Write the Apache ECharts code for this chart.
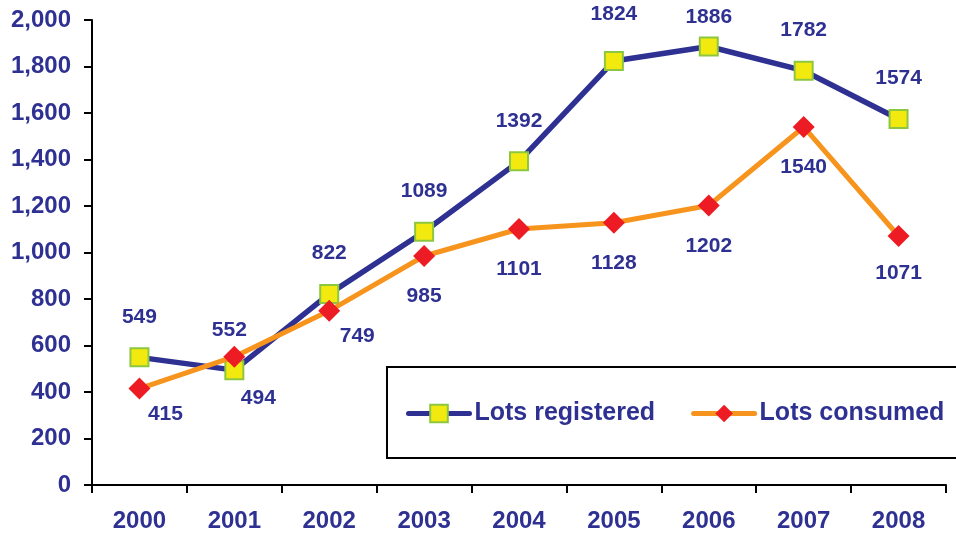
<!DOCTYPE html>
<html>
<head>
<meta charset="utf-8">
<script src="https://cdn.jsdelivr.net/npm/echarts@6/dist/echarts.min.js"></script>
<style>
  html, body { margin: 0; padding: 0; background: #fff; }
  #chart { width: 956px; height: 533px; }
</style>
</head>
<body>
<div id="chart"></div>
<script>
var years = ['2000', '2001', '2002', '2003', '2004', '2005', '2006', '2007', '2008'];
var lotsRegistered = [549, 494, 822, 1089, 1392, 1824, 1886, 1782, 1574];
var lotsConsumed = [415, 552, 749, 985, 1101, 1128, 1202, 1540, 1071];

var navy = '#2E3192';
var font = 'Liberation Sans, Arial, sans-serif';

// label placement tweaks per point (index -> label option)
var regLabelTweaks = {
    1: { position: 'bottom', distance: 8, offset: [24, 0] },
    5: { offset: [0, -6] },
    6: { offset: [0, 11] }
};
var conLabelTweaks = {
    0: { distance: 4, offset: [26, 0] },
    1: { position: 'top', distance: 5, offset: [-5, 0] },
    2: { distance: 4, offset: [28, 0] },
    8: { distance: 16 }
};

function buildData(values, tweaks) {
    return values.map(function (v, i) {
        var item = { value: v };
        if (tweaks[i]) item.label = tweaks[i];
        return item;
    });
}

var chart = echarts.init(document.getElementById('chart'));

var option = {
    animation: false,
    textStyle: { fontFamily: font },
    grid: { left: 92, right: 10, top: 20, bottom: 47 },
    // legend box drawn separately so it can run off the right edge
    graphic: [{
        type: 'rect',
        shape: { x: 387, y: 367, width: 600, height: 91 },
        style: { fill: '#fff', stroke: '#000', lineWidth: 2 },
        z: 90
    }],
    legend: {
        orient: 'horizontal',
        left: 406,
        top: 401,
        padding: 0,
        width: 560,
        itemWidth: 61,
        itemHeight: 22,
        itemGap: 36,
        z: 100,
        textStyle: { color: navy, fontSize: 25, fontWeight: 'bold', fontFamily: font },
        lineStyle: { width: 5, cap: 'round' },
        data: ['Lots registered', 'Lots consumed']
    },
    xAxis: {
        type: 'category',
        data: years,
        boundaryGap: true,
        axisLine: { lineStyle: { color: '#000', width: 2 } },
        axisTick: { show: true, length: 8, lineStyle: { color: '#000', width: 2 } },
        axisLabel: { color: navy, fontSize: 24, fontWeight: 'bold', margin: 24, fontFamily: font }
    },
    yAxis: {
        type: 'value',
        min: 0,
        max: 2000,
        interval: 200,
        splitLine: { show: false },
        axisLine: { show: true, lineStyle: { color: '#000', width: 2 } },
        axisTick: { show: true, length: 8, lineStyle: { color: '#000', width: 2 } },
        axisLabel: {
            color: navy, fontSize: 24, fontWeight: 'bold', margin: 21, fontFamily: font,
            formatter: function (v) { return v.toLocaleString('en-US'); }
        }
    },
    series: [
        {
            name: 'Lots registered',
            type: 'line',
            data: buildData(lotsRegistered, regLabelTweaks),
            symbol: 'rect',
            symbolSize: 18,
            lineStyle: { color: navy, width: 5.5 },
            itemStyle: { color: '#F2EA0F', borderColor: '#8DC63F', borderWidth: 2 },
            label: {
                show: true, position: 'top', distance: 20,
                color: navy, fontSize: 21, fontWeight: 'bold', fontFamily: font
            },
            z: 2
        },
        {
            name: 'Lots consumed',
            type: 'line',
            data: buildData(lotsConsumed, conLabelTweaks),
            symbol: 'diamond',
            symbolSize: 22,
            lineStyle: { color: '#F7941D', width: 5 },
            itemStyle: { color: '#ED1C24', borderWidth: 0 },
            label: {
                show: true, position: 'bottom', distance: 19,
                color: navy, fontSize: 21, fontWeight: 'bold', fontFamily: font
            },
            z: 3
        }
    ]
};

chart.setOption(option);
</script>
</body>
</html>
